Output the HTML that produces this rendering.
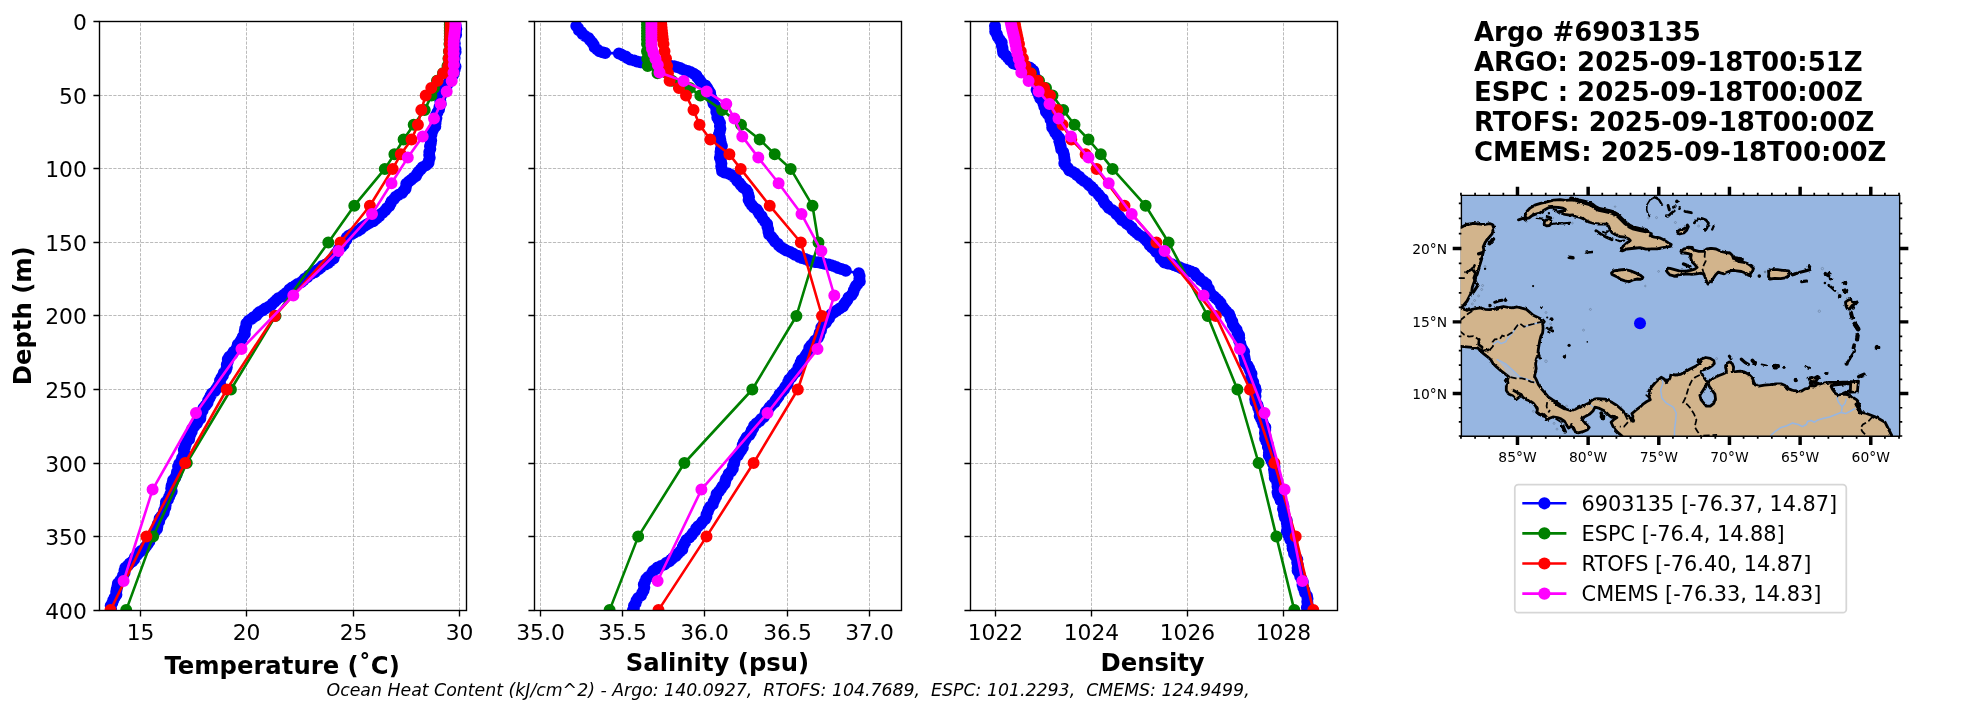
<!DOCTYPE html>
<html lang="en"><head><meta charset="utf-8"><title>Argo #6903135</title>
<style>html,body{margin:0;padding:0;background:#fff}svg text{fill:#000}svg{will-change:transform;transform:translateZ(0)}</style></head>
<body>
<svg width="1967" height="712" viewBox="0 0 1967 712" style="display:block;font-family:'DejaVu Sans', 'Liberation Sans', sans-serif">
<rect width="1967" height="712" fill="#fff"/>
<defs>
<clipPath id="c0"><rect x="99.50" y="21.50" width="367.00" height="589.00"/></clipPath>
<clipPath id="c1"><rect x="534.50" y="21.50" width="367.00" height="589.00"/></clipPath>
<clipPath id="c2"><rect x="970.50" y="21.50" width="367.00" height="589.00"/></clipPath>
</defs>
<path d="M140.50 610.50V21.50M246.50 610.50V21.50M353.50 610.50V21.50M459.50 610.50V21.50M99.50 21.50H466.50M99.50 95.50H466.50M99.50 168.50H466.50M99.50 242.50H466.50M99.50 315.50H466.50M99.50 389.50H466.50M99.50 463.50H466.50M99.50 536.50H466.50M99.50 610.50H466.50" fill="none" stroke="#b0b0b0" stroke-width="0.87" stroke-dasharray="3.21 1.39"/>
<g clip-path="url(#c0)">
<polyline points="455,26 455.3,40 455.2,55 454.8,65 452.3,75 448,84 443,91 439.8,103.4 437.3,112 434,128.7 429.7,145.5 429.7,154 428,162.4 422,168.5 418,174 407.8,182.6 404.5,189.4 396.9,196 390,204.5 383.4,213 373.3,220.3 348,237.1 338,250.6 329.5,262.4 316,270.8 299.2,282.6 282.3,296 263.8,309.6 249.4,320.3 244.4,330.4 241,340.5 230,357.4 223.3,374.2 214.9,391.1 205.6,404.6 197.8,420.3 189.4,437.1 182.6,454 177.6,470.8 171.7,487.7 165.8,504.5 159.9,521.9 150.6,538.8 142.2,550.5 126.2,567.4 119.4,580.9 116,594.4 111,607.8 110,610.3" fill="none" stroke="#0000ff" stroke-width="2.60" stroke-linejoin="round"/>
<path d="M455.8 26h.01M456.3 28.9h.01M456 31.8h.01M456.1 34.7h.01M454.8 37.6h.01M454.3 40.5h.01M454.8 43.4h.01M454.6 46.3h.01M455.5 49.2h.01M455.6 52.1h.01M454.5 55h.01M454.6 57.9h.01M454.2 60.8h.01M454.4 63.7h.01M455.5 66.5h.01M454.7 69.4h.01M454 72.2h.01M453.1 75h.01M450.4 77.6h.01M449.5 80.2h.01M448.5 82.8h.01M446.9 85.3h.01M446 87.7h.01M443.5 90h.01M441.5 92.6h.01M441.1 95.5h.01M439.9 98.3h.01M440.3 101.1h.01M440.7 103.9h.01M439.5 106.7h.01M439 109.4h.01M437.5 112.2h.01M436.1 115.1h.01M436.4 117.9h.01M435.8 120.8h.01M435.5 123.6h.01M435.3 126.5h.01M433.2 129.3h.01M432.1 132.1h.01M431.4 134.9h.01M430.4 137.7h.01M431.2 140.5h.01M430.8 143.3h.01M430 146.2h.01M430.3 149.1h.01M429.3 152h.01M429.2 154.9h.01M429.7 157.7h.01M428.9 160.5h.01M428.5 163.1h.01M426 165.2h.01M422.5 167.3h.01M420.6 169.4h.01M418.5 171.8h.01M417 174.1h.01M416.1 176h.01M413.5 177.8h.01M411.2 179.7h.01M408.9 181.6h.01M406.3 183.8h.01M406 186.4h.01M405.5 189h.01M403.5 191h.01M402 192.9h.01M398.7 194.8h.01M395.7 196.8h.01M394 199.1h.01M391.6 201.3h.01M390.6 203.6h.01M389.4 205.9h.01M386.8 208.2h.01M385.1 210.5h.01M382.7 212.7h.01M380.2 214.5h.01M379.2 216.2h.01M377.2 217.9h.01M375.3 219.6h.01M373.3 221.2h.01M369.4 222.9h.01M366.8 224.5h.01M364.5 226.1h.01M361.8 227.7h.01M360.5 229.3h.01M357.7 230.9h.01M354.5 232.5h.01M352 234.1h.01M348.7 235.7h.01M346.8 237.4h.01M346.4 239.7h.01M344.7 242h.01M343.7 244.4h.01M341.7 246.7h.01M338.8 249h.01M337.6 251.4h.01M335.8 253.7h.01M334.4 256.1h.01M333.6 258.4h.01M330.9 260.8h.01M328.3 262.9h.01M325.5 264.4h.01M322.2 265.9h.01M320.8 267.5h.01M319 269h.01M316.6 270.5h.01M314.8 272.2h.01M311.6 273.8h.01M308.8 275.5h.01M307.2 277.2h.01M304.7 278.8h.01M303.3 280.5h.01M301.2 282.2h.01M297.6 283.9h.01M295.1 285.7h.01M292 287.6h.01M289.4 289.4h.01M288.4 291.2h.01M286.1 293h.01M283.9 294.8h.01M281.8 296.5h.01M278.3 298.3h.01M276.4 300h.01M274.7 301.7h.01M272.6 303.4h.01M271.5 305.1h.01M268.7 306.8h.01M265.3 308.6h.01M262.9 310.3h.01M259.6 312h.01M257.7 313.7h.01M256.3 315.5h.01M253.4 317.2h.01M251.3 318.9h.01M248.6 320.8h.01M246.4 323.4h.01M246.1 326h.01M245.2 328.6h.01M244.7 331.3h.01M244.8 334h.01M242.8 336.8h.01M241.5 339.5h.01M240 342.1h.01M237.8 344.5h.01M237.2 346.9h.01M235.9 349.4h.01M233.6 351.8h.01M232.1 354.2h.01M229.3 356.7h.01M227.8 359.3h.01M227.7 362h.01M226.8 364.7h.01M226.8 367.3h.01M226 370h.01M223.9 372.7h.01M222.9 375.4h.01M221.3 378h.01M220 380.6h.01M220 383.2h.01M218.3 385.8h.01M216.6 388.4h.01M214.9 391h.01M211.9 393.4h.01M210.6 395.8h.01M209.6 398.1h.01M208.1 400.5h.01M207.5 402.9h.01M205.5 405.4h.01M203.5 408h.01M202.6 410.6h.01M201 413.2h.01M200.6 415.8h.01M200.3 418.4h.01M198.2 420.9h.01M196.8 423.5h.01M194.6 426.1h.01M192.3 428.7h.01M191.8 431.3h.01M190.6 433.9h.01M189.6 436.5h.01M189.1 439.2h.01M186.8 441.9h.01M185.7 444.6h.01M184.9 447.3h.01M183.8 449.9h.01M184.2 452.6h.01M183.6 455.4h.01M182.1 458.1h.01M181.2 460.9h.01M179.2 463.7h.01M178.1 466.5h.01M178.2 469.3h.01M177 472h.01M176.5 474.8h.01M175.3 477.5h.01M173.1 480.2h.01M172.5 483h.01M171.6 485.7h.01M171.2 488.5h.01M171.7 491.2h.01M170.4 493.9h.01M169.2 496.7h.01M168 499.4h.01M166 502.1h.01M165.7 504.9h.01M165.3 507.6h.01M164.1 510.4h.01M163.6 513.1h.01M161.5 515.9h.01M159.6 518.6h.01M159.2 521.3h.01M157.8 523.9h.01M157.4 526.5h.01M157 529h.01M154.9 531.6h.01M153.6 534.1h.01M151.7 536.6h.01M149.9 539.1h.01M149.4 541.5h.01M147.8 543.9h.01M146 546.2h.01M144.4 548.6h.01M141 550.9h.01M138.7 553h.01M137 555.1h.01M134.9 557.2h.01M134.2 559.3h.01M132.3 561.4h.01M129.6 563.5h.01M127.9 565.6h.01M125.3 567.8h.01M124.5 570.4h.01M124.5 573h.01M123 575.6h.01M122 578.2h.01M120.1 580.8h.01M117.9 583.6h.01M117.4 586.4h.01M116.7 589.2h.01M116.2 592h.01M116.4 594.8h.01M114.6 597.5h.01M113.2 600.2h.01M112.3 602.9h.01M110.7 605.7h.01M111 608.4h.01M111.1 610.3h.01" fill="none" stroke="#0000ff" stroke-width="12.00" stroke-linecap="round"/>
<polyline points="449.8,21.9 449.8,24.8 449.8,27.8 449.8,30.7 449.8,33.6 449.8,36.6 449.7,39.5 449.5,43.9 449,51.3 448.5,58.6 447.5,66 443,73.3 437,80.7 434,88.1 431.4,95.4 424.7,110.1 413.7,124.8 403.6,139.5 394.4,154.2 384.8,168.9 354.3,205.7 328.3,242.5 275.5,316 230.9,389.5 186.8,463 153.1,536.6 126.2,610.1" fill="none" stroke="#008000" stroke-width="2.60" stroke-linejoin="round"/>
<path d="M449.8 21.9h.01M449.8 24.8h.01M449.8 27.8h.01M449.8 30.7h.01M449.8 33.6h.01M449.8 36.6h.01M449.7 39.5h.01M449.5 43.9h.01M449 51.3h.01M448.5 58.6h.01M447.5 66h.01M443 73.3h.01M437 80.7h.01M434 88.1h.01M431.4 95.4h.01M424.7 110.1h.01M413.7 124.8h.01M403.6 139.5h.01M394.4 154.2h.01M384.8 168.9h.01M354.3 205.7h.01M328.3 242.5h.01M275.5 316h.01M230.9 389.5h.01M186.8 463h.01M153.1 536.6h.01M126.2 610.1h.01" fill="none" stroke="#008000" stroke-width="12.00" stroke-linecap="round"/>
<polyline points="450.6,21.9 450.6,24.8 450.5,27.8 450.4,30.7 450.3,33.6 450.2,36.6 450.1,39.5 449.8,43.9 449.2,51.3 448.7,58.6 448.2,66 443.2,73.3 437.6,80.7 431.3,88.1 425.7,95.4 421.3,110.1 417.9,124.8 411.5,139.5 400.8,154.2 392.7,168.9 369.9,205.7 340.5,242.5 274.8,316 226.7,389.5 185.1,463 146.4,536.6 110.5,610.1" fill="none" stroke="#ff0000" stroke-width="2.60" stroke-linejoin="round"/>
<path d="M450.6 21.9h.01M450.6 24.8h.01M450.5 27.8h.01M450.4 30.7h.01M450.3 33.6h.01M450.2 36.6h.01M450.1 39.5h.01M449.8 43.9h.01M449.2 51.3h.01M448.7 58.6h.01M448.2 66h.01M443.2 73.3h.01M437.6 80.7h.01M431.3 88.1h.01M425.7 95.4h.01M421.3 110.1h.01M417.9 124.8h.01M411.5 139.5h.01M400.8 154.2h.01M392.7 168.9h.01M369.9 205.7h.01M340.5 242.5h.01M274.8 316h.01M226.7 389.5h.01M185.1 463h.01M146.4 536.6h.01M110.5 610.1h.01" fill="none" stroke="#ff0000" stroke-width="12.00" stroke-linecap="round"/>
<polyline points="455.4,22.6 455.4,24.1 455.3,25.8 455.2,27.5 455,29.4 454.8,31.4 454.5,33.5 454.2,36 453.9,38.6 453.7,41.7 453.6,45.1 453.6,49.1 453.6,53.6 453.7,58.9 453.8,65.1 453.5,72.5 451.7,81.1 446.7,91.6 440.6,103.9 434,118.6 422.7,136.4 407.8,157.6 391.5,183.2 372,214.1 338.5,251.1 293.3,295.5 241.5,349.1 196,413 152.6,489.6 123.6,581" fill="none" stroke="#ff00ff" stroke-width="2.60" stroke-linejoin="round"/>
<path d="M455.4 22.6h.01M455.4 24.1h.01M455.3 25.8h.01M455.2 27.5h.01M455 29.4h.01M454.8 31.4h.01M454.5 33.5h.01M454.2 36h.01M453.9 38.6h.01M453.7 41.7h.01M453.6 45.1h.01M453.6 49.1h.01M453.6 53.6h.01M453.7 58.9h.01M453.8 65.1h.01M453.5 72.5h.01M451.7 81.1h.01M446.7 91.6h.01M440.6 103.9h.01M434 118.6h.01M422.7 136.4h.01M407.8 157.6h.01M391.5 183.2h.01M372 214.1h.01M338.5 251.1h.01M293.3 295.5h.01M241.5 349.1h.01M196 413h.01M152.6 489.6h.01M123.6 581h.01" fill="none" stroke="#ff00ff" stroke-width="12.00" stroke-linecap="round"/>
</g>
<path d="M140.50 610.50v6.08M246.50 610.50v6.08M353.50 610.50v6.08M459.50 610.50v6.08M99.50 21.50h-6.08M99.50 95.50h-6.08M99.50 168.50h-6.08M99.50 242.50h-6.08M99.50 315.50h-6.08M99.50 389.50h-6.08M99.50 463.50h-6.08M99.50 536.50h-6.08M99.50 610.50h-6.08" fill="none" stroke="#000" stroke-width="1.39"/>
<rect x="99.50" y="21.50" width="367.00" height="589.00" fill="none" stroke="#000" stroke-width="1.39"/>
<g font-size="21.80" text-anchor="middle">
<text x="140.50" y="640">15</text>
<text x="246.50" y="640">20</text>
<text x="353.50" y="640">25</text>
<text x="459.50" y="640">30</text>
</g>
<g font-size="21.80" text-anchor="end">
<text x="86.8" y="29.50">0</text>
<text x="86.8" y="103.50">50</text>
<text x="86.8" y="176.50">100</text>
<text x="86.8" y="250.50">150</text>
<text x="86.8" y="323.50">200</text>
<text x="86.8" y="397.50">250</text>
<text x="86.8" y="471.50">300</text>
<text x="86.8" y="544.50">350</text>
<text x="86.8" y="618.50">400</text>
</g>
<text x="282.10" y="674.00" font-size="24.30" font-weight="bold" text-anchor="middle">Temperature (˚C)</text>
<path d="M540.50 610.50V21.50M622.50 610.50V21.50M704.50 610.50V21.50M787.50 610.50V21.50M869.50 610.50V21.50M534.50 21.50H901.50M534.50 95.50H901.50M534.50 168.50H901.50M534.50 242.50H901.50M534.50 315.50H901.50M534.50 389.50H901.50M534.50 463.50H901.50M534.50 536.50H901.50M534.50 610.50H901.50" fill="none" stroke="#b0b0b0" stroke-width="0.87" stroke-dasharray="3.21 1.39"/>
<g clip-path="url(#c1)">
<polyline points="575.6,26 579.5,30.2 584.5,34.4 588.8,38.6 591.3,42.8 594.7,47 598.9,51.2 603.9,52.9 618.2,53.4 627.5,56.8 630,59.1 638.5,62.2 650,63.5 662,64.5 675.5,66.4 683.1,69.3 690.7,72.3 696.6,76.5 701.6,81.6 705.9,85.8 711.8,95.9 712.9,103.4 716.2,111.8 719.1,120.3 720.4,128.7 720.4,145.5 720.4,162.4 722.1,170.8 730.5,174.2 739,182.6 747.4,192.7 752,205.1 761.2,215.2 765.4,223.6 768.8,232.1 775.5,242.2 784,248.9 792.4,254 800.8,257.3 809.2,260.7 819.4,262.4 829.5,264.9 839.6,268.3 845.5,270.8 858.1,273.3 859.8,277.6 860.6,282.6 854.7,287.7 851.4,294.4 846.3,301.2 841.3,307 829.8,316.9 823.1,325.3 818.9,333.8 813,343.9 804.6,357.3 797.8,367.5 791.1,377.6 786,386 781,394.4 772.6,402.8 763.2,416.8 753.1,428.6 744.7,440.4 737.9,455.6 731.2,470.8 722.8,484.2 716,497.7 709.3,509.5 706.5,515.2 698.1,527 689.6,537.1 682.9,547.2 674.5,557.3 664.4,564 654.2,570.8 645.8,579.2 642.4,591 637.4,601.1 633.2,608.7 632.5,610.3" fill="none" stroke="#0000ff" stroke-width="2.60" stroke-linejoin="round"/>
<path d="M576.3 26h.01M578 28.1h.01M578.9 30.2h.01M581.2 32.1h.01M582.5 34h.01M585.1 36h.01M588.5 38h.01M590.2 40.3h.01M592.3 42.8h.01M593.8 45.1h.01M594.6 47.3h.01M597.2 49.4h.01M599.4 51.3h.01M602.4 52.2h.01M605.2 52.9h.01M618.9 53.4h.01M621.3 54.4h.01M623 55.4h.01M625.8 56.4h.01M627.3 57.9h.01M630.1 59.5h.01M634.2 60.5h.01M636.9 61.5h.01M640.3 62.3h.01M642.9 62.6h.01M644.7 62.9h.01M648.1 63.3h.01M651.1 63.6h.01M654.2 63.8h.01M658 64.1h.01M659.8 64.3h.01M661.9 64.6h.01M664.5 65h.01M666.6 65.4h.01M670.5 65.8h.01M674.1 66.2h.01M676.8 66.9h.01M680.1 67.9h.01M681.9 68.9h.01M684.2 70h.01M687.8 71.1h.01M690.5 72.1h.01M693.8 73.7h.01M696.4 75.4h.01M697.3 77.2h.01M699.1 79.3h.01M700.5 81.3h.01M702.2 83.4h.01M705.5 85.4h.01M707.1 87.8h.01M708.5 90.3h.01M710.1 92.8h.01M710.4 95.3h.01M711.5 98.1h.01M712.8 101h.01M713.5 103.8h.01M715.7 106.5h.01M716.3 109.2h.01M716.3 111.9h.01M717.2 114.6h.01M717.3 117.4h.01M718.6 120.1h.01M720 123h.01M719.9 125.9h.01M720.4 128.7h.01M719.8 131.6h.01M718.9 134.5h.01M719.9 137.4h.01M720.4 140.3h.01M721 143.2h.01M721.9 146.1h.01M720.9 149h.01M720.5 151.9h.01M720.5 154.8h.01M719.9 157.7h.01M720.9 160.6h.01M721.4 163.5h.01M721.2 166.3h.01M721.8 169.2h.01M722.1 171.3h.01M724.4 172.4h.01M728.3 173.4h.01M730.9 174.8h.01M733.9 176.9h.01M736.2 178.9h.01M737.2 180.9h.01M739.4 183h.01M741.1 185.2h.01M743.1 187.5h.01M746.2 189.7h.01M747.6 191.9h.01M748.3 194.5h.01M749 197.2h.01M748.6 199.9h.01M750 202.6h.01M751.9 205.3h.01M753.9 207.4h.01M756.8 209.6h.01M758.2 211.7h.01M759.4 213.9h.01M761.6 216.2h.01M762.7 218.8h.01M764.9 221.4h.01M767.1 224h.01M767.4 226.7h.01M768.2 229.4h.01M768.5 232.1h.01M769.1 234.5h.01M771.6 236.9h.01M773.4 239.3h.01M775.1 241.7h.01M777.8 243.7h.01M778.9 245.4h.01M781 247.2h.01M783.8 249h.01M786.3 250.5h.01M790.2 252h.01M793 253.5h.01M794.9 254.7h.01M797.6 255.8h.01M799.2 256.9h.01M801.7 257.9h.01M805.3 259h.01M807.7 260.1h.01M810.8 260.9h.01M813.4 261.4h.01M814.9 261.9h.01M818.1 262.3h.01M821.2 263h.01M824.5 263.7h.01M828.7 264.4h.01M831.2 265.2h.01M833.5 266.1h.01M836.2 267h.01M838 268h.01M841.4 269h.01M844.7 270.1h.01M845.8 270.8h.01M858.8 273.3h.01M859.6 276h.01M859.4 278.8h.01M859.8 281.6h.01M857.7 283.9h.01M856 285.7h.01M855.1 287.6h.01M853.8 290.2h.01M853.1 292.8h.01M851.4 295.3h.01M848.5 297.6h.01M847.4 300h.01M845.6 302.2h.01M844 304.4h.01M842.9 306.6h.01M839.7 308.6h.01M836.8 310.4h.01M834.3 312.3h.01M831.3 314.2h.01M830.2 316.1h.01M829 318.2h.01M827 320.5h.01M825.8 322.8h.01M823.1 325h.01M821.3 327.6h.01M821 330.2h.01M819.7 332.8h.01M819.1 335.3h.01M818 337.8h.01M815.1 340.4h.01M813.4 342.9h.01M811.2 345.3h.01M809.3 347.8h.01M809.1 350.2h.01M807.5 352.7h.01M805.9 355.2h.01M804.5 357.6h.01M801.7 360h.01M800.6 362.4h.01M799.8 364.9h.01M798.4 367.3h.01M797.9 369.7h.01M795.9 372.1h.01M793.2 374.5h.01M791.6 376.9h.01M789.2 379.4h.01M788.1 381.9h.01M787.5 384.3h.01M785.4 386.8h.01M784 389.3h.01M781.9 391.8h.01M779.5 394.3h.01M778.5 396.4h.01M777 398.4h.01M775.5 400.5h.01M774.4 402.5h.01M771.7 404.9h.01M769.6 407.3h.01M768 409.7h.01M765.8 412.1h.01M765.2 414.5h.01M763.9 416.9h.01M761.2 419.1h.01M759.3 421.3h.01M756.3 423.5h.01M754.1 425.7h.01M753.3 427.9h.01M751.7 430.2h.01M750.9 432.6h.01M749.5 435h.01M746.7 437.3h.01M745.3 439.7h.01M743.8 442.3h.01M742.7 444.9h.01M742.8 447.6h.01M741.1 450.2h.01M739.4 452.8h.01M737.8 455.5h.01M735.3 458.1h.01M734.6 460.8h.01M734.1 463.5h.01M733 466.1h.01M732.8 468.8h.01M731 471.4h.01M728.7 473.8h.01M727.7 476.3h.01M726 478.7h.01M725.3 481.2h.01M724.7 483.7h.01M722.5 486.2h.01M721 488.8h.01M718.9 491.4h.01M716.6 494h.01M716.2 496.6h.01M715 499.1h.01M713.7 501.6h.01M712.8 504.2h.01M710.1 506.7h.01M708.6 509.2h.01M707.8 511.8h.01M706.5 514.4h.01M706.4 516.8h.01M705 519.2h.01M702.6 521.6h.01M700.9 523.9h.01M698.1 526.3h.01M696.1 528.6h.01M695.2 530.8h.01M693 533h.01M691.5 535.2h.01M689.4 537.5h.01M686.4 539.9h.01M685.2 542.3h.01M683.8 544.7h.01M682.7 547.1h.01M682.3 549.4h.01M680.1 551.6h.01M677.8 553.8h.01M675.9 556.1h.01M672.9 558h.01M671.2 559.6h.01M669.4 561.2h.01M666.5 562.8h.01M664.4 564.4h.01M660.9 566h.01M657.5 567.6h.01M655.7 569.2h.01M653.2 570.9h.01M652.1 572.9h.01M651 575h.01M648.1 577h.01M646.2 579.1h.01M645 581.8h.01M643.8 584.6h.01M644.3 587.4h.01M643.6 590.2h.01M642.3 592.8h.01M641 595.4h.01M638.1 598h.01M636.5 600.6h.01M635.6 603.2h.01M634 605.7h.01M633.8 608.3h.01M632.9 610.3h.01" fill="none" stroke="#0000ff" stroke-width="12.00" stroke-linecap="round"/>
<polyline points="647,21.9 647,24.8 647,27.8 647,30.7 647,33.6 647,36.6 647,39.5 647,43.9 647,51.3 647.2,58.6 647.7,66 657.5,73.3 672,80.7 689.9,88.1 700.3,95.4 722.1,110.1 741,124.8 759.7,139.5 774.7,154.2 790.7,168.9 812.5,205.7 818.5,242.5 796.4,316 752.3,389.5 684.4,463 638.2,536.6 609.6,610.1" fill="none" stroke="#008000" stroke-width="2.60" stroke-linejoin="round"/>
<path d="M647 21.9h.01M647 24.8h.01M647 27.8h.01M647 30.7h.01M647 33.6h.01M647 36.6h.01M647 39.5h.01M647 43.9h.01M647 51.3h.01M647.2 58.6h.01M647.7 66h.01M657.5 73.3h.01M672 80.7h.01M689.9 88.1h.01M700.3 95.4h.01M722.1 110.1h.01M741 124.8h.01M759.7 139.5h.01M774.7 154.2h.01M790.7 168.9h.01M812.5 205.7h.01M818.5 242.5h.01M796.4 316h.01M752.3 389.5h.01M684.4 463h.01M638.2 536.6h.01M609.6 610.1h.01" fill="none" stroke="#008000" stroke-width="12.00" stroke-linecap="round"/>
<polyline points="661.1,21.9 661.3,24.8 661.6,27.8 661.9,30.7 662.2,33.6 662.5,36.6 662.9,39.5 663.5,43.9 664.5,51.3 666,58.6 667.1,66 668,73.3 669.6,80.7 678.9,88.1 686,95.4 693.5,110.1 699.5,124.8 710.3,139.5 729.4,154.2 740.7,168.9 769.7,205.7 800.8,242.5 822,316 797.8,389.5 753.6,463 706.5,536.6 658.5,610.1" fill="none" stroke="#ff0000" stroke-width="2.60" stroke-linejoin="round"/>
<path d="M661.1 21.9h.01M661.3 24.8h.01M661.6 27.8h.01M661.9 30.7h.01M662.2 33.6h.01M662.5 36.6h.01M662.9 39.5h.01M663.5 43.9h.01M664.5 51.3h.01M666 58.6h.01M667.1 66h.01M668 73.3h.01M669.6 80.7h.01M678.9 88.1h.01M686 95.4h.01M693.5 110.1h.01M699.5 124.8h.01M710.3 139.5h.01M729.4 154.2h.01M740.7 168.9h.01M769.7 205.7h.01M800.8 242.5h.01M822 316h.01M797.8 389.5h.01M753.6 463h.01M706.5 536.6h.01M658.5 610.1h.01" fill="none" stroke="#ff0000" stroke-width="12.00" stroke-linecap="round"/>
<polyline points="651.4,22.6 651.4,24.1 651.4,25.8 651.4,27.5 651.4,29.4 651.4,31.4 651.4,33.5 651.4,36 651.4,38.6 651.4,41.7 651.4,45.1 652,49.1 653.5,53.6 655.5,58.9 657.8,65.1 659.5,72.5 683.6,81.1 706.7,91.6 726.3,103.9 734.4,118.6 742.3,136.4 758.3,157.6 778.6,183.2 801.5,214.1 821.4,251.1 834.3,295.5 817.5,349.1 767.5,413 701.4,489.6 657.6,581" fill="none" stroke="#ff00ff" stroke-width="2.60" stroke-linejoin="round"/>
<path d="M651.4 22.6h.01M651.4 24.1h.01M651.4 25.8h.01M651.4 27.5h.01M651.4 29.4h.01M651.4 31.4h.01M651.4 33.5h.01M651.4 36h.01M651.4 38.6h.01M651.4 41.7h.01M651.4 45.1h.01M652 49.1h.01M653.5 53.6h.01M655.5 58.9h.01M657.8 65.1h.01M659.5 72.5h.01M683.6 81.1h.01M706.7 91.6h.01M726.3 103.9h.01M734.4 118.6h.01M742.3 136.4h.01M758.3 157.6h.01M778.6 183.2h.01M801.5 214.1h.01M821.4 251.1h.01M834.3 295.5h.01M817.5 349.1h.01M767.5 413h.01M701.4 489.6h.01M657.6 581h.01" fill="none" stroke="#ff00ff" stroke-width="12.00" stroke-linecap="round"/>
</g>
<path d="M540.50 610.50v6.08M622.50 610.50v6.08M704.50 610.50v6.08M787.50 610.50v6.08M869.50 610.50v6.08M534.50 21.50h-6.08M534.50 95.50h-6.08M534.50 168.50h-6.08M534.50 242.50h-6.08M534.50 315.50h-6.08M534.50 389.50h-6.08M534.50 463.50h-6.08M534.50 536.50h-6.08M534.50 610.50h-6.08" fill="none" stroke="#000" stroke-width="1.39"/>
<rect x="534.50" y="21.50" width="367.00" height="589.00" fill="none" stroke="#000" stroke-width="1.39"/>
<g font-size="21.80" text-anchor="middle">
<text x="540.50" y="640">35.0</text>
<text x="622.50" y="640">35.5</text>
<text x="704.50" y="640">36.0</text>
<text x="787.50" y="640">36.5</text>
<text x="869.50" y="640">37.0</text>
</g>
<text x="717.50" y="670.60" font-size="24.30" font-weight="bold" text-anchor="middle">Salinity (psu)</text>
<path d="M995.50 610.50V21.50M1091.50 610.50V21.50M1187.50 610.50V21.50M1283.50 610.50V21.50M970.50 21.50H1337.50M970.50 95.50H1337.50M970.50 168.50H1337.50M970.50 242.50H1337.50M970.50 315.50H1337.50M970.50 389.50H1337.50M970.50 463.50H1337.50M970.50 536.50H1337.50M970.50 610.50H1337.50" fill="none" stroke="#b0b0b0" stroke-width="0.87" stroke-dasharray="3.21 1.39"/>
<g clip-path="url(#c2)">
<polyline points="994.4,26 996.1,31.8 998.6,38.6 1001.1,45.3 1003.6,52.1 1008.7,58.8 1012.9,63 1022,65.5 1030,68 1034,72 1036,80 1038,90 1041.2,100.5 1046.3,111.4 1052.2,124 1058.6,138.8 1062,150.6 1064.5,162.4 1070.4,170.8 1078.9,175.9 1087.3,184.3 1097.4,192.7 1104.5,202.2 1116.8,215.2 1128.6,225.3 1140.4,235.4 1150.5,245.5 1159,255.7 1165.7,262.4 1175.8,265.8 1184.2,269.1 1192.7,272.5 1199.4,277.6 1206.1,284.3 1211.2,292.7 1213,296 1218.5,302 1227,311.5 1234,323.6 1237.4,333.8 1240.8,345.5 1245,357.3 1249.2,369.1 1252.6,380.9 1255.1,392.7 1257.6,405.5 1263.9,428.1 1270.2,456.2 1277.2,484.3 1280,498.3 1281.7,503.8 1289.6,536.6 1297.5,565.3 1305,591.6 1308,609.2 1308.3,610.3" fill="none" stroke="#0000ff" stroke-width="2.60" stroke-linejoin="round"/>
<path d="M995 26h.01M995.2 28.8h.01M995.2 31.6h.01M996.9 34.3h.01M997.8 37h.01M999.7 39.7h.01M1001.7 42.5h.01M1001.8 45.2h.01M1002.5 47.9h.01M1002.8 50.6h.01M1003.2 53.1h.01M1005.9 55.5h.01M1007.9 57.8h.01M1009.7 59.9h.01M1012.2 62h.01M1013.4 63.4h.01M1016.1 64.2h.01M1019.5 64.9h.01M1022.4 65.7h.01M1026.5 66.6h.01M1029.6 67.4h.01M1031.2 68.7h.01M1033.3 70.8h.01M1033.9 73.1h.01M1034.4 76h.01M1036.2 78.8h.01M1036.4 81.6h.01M1037.1 84.4h.01M1037.4 87.3h.01M1036.6 90.1h.01M1037.9 92.9h.01M1039.1 95.7h.01M1040.3 98.5h.01M1042.7 101.2h.01M1043.5 103.8h.01M1044.3 106.4h.01M1045.5 109.1h.01M1045.9 111.7h.01M1047.9 114.3h.01M1049.8 116.9h.01M1050.5 119.6h.01M1051.9 122.2h.01M1052.1 124.8h.01M1052.2 127.5h.01M1054.1 130.2h.01M1055.2 132.8h.01M1057.2 135.5h.01M1059.2 138.1h.01M1059.2 140.9h.01M1060 143.7h.01M1060.7 146.5h.01M1061.2 149.3h.01M1063.2 152.1h.01M1064 154.9h.01M1064.3 157.7h.01M1064.8 160.6h.01M1064.3 163.3h.01M1065.7 165.6h.01M1067.9 168h.01M1069.4 170.4h.01M1072.8 172h.01M1075.3 173.5h.01M1076.8 175h.01M1079.4 176.7h.01M1081.1 178.8h.01M1083.7 180.8h.01M1087.2 182.9h.01M1089 184.9h.01M1091.2 186.7h.01M1093 188.6h.01M1093.8 190.4h.01M1096.4 192.3h.01M1098.5 194.5h.01M1100.2 196.8h.01M1102.8 199.1h.01M1103.6 201.5h.01M1104.9 203.6h.01M1107.2 205.8h.01M1108.8 207.9h.01M1112.1 210h.01M1115 212.1h.01M1116.6 214.2h.01M1119 216.2h.01M1120.2 218.1h.01M1121.7 219.9h.01M1124.8 221.8h.01M1126.8 223.7h.01M1129.4 225.6h.01M1131.8 227.5h.01M1132.5 229.4h.01M1134.6 231.3h.01M1136.7 233.1h.01M1138.9 235h.01M1142.6 237h.01M1144.8 239.1h.01M1146.7 241.1h.01M1148.9 243.2h.01M1149.8 245.3h.01M1152 247.5h.01M1154.6 249.7h.01M1156.3 251.9h.01M1158.8 254.1h.01M1160 256.3h.01M1160.7 258.4h.01M1162.9 260.4h.01M1164.5 262.4h.01M1167.8 263.4h.01M1171.9 264.3h.01M1174.2 265.2h.01M1177 266.2h.01M1179.5 267.2h.01M1181.4 268.3h.01M1185.2 269.4h.01M1188.4 270.4h.01M1191.1 271.5h.01M1194.3 272.7h.01M1195.3 274.4h.01M1196.8 276.2h.01M1199.2 278h.01M1200.7 280h.01M1203.8 282.1h.01M1206.4 284.1h.01M1207.1 286.6h.01M1208.9 289.1h.01M1209.7 291.5h.01M1211.1 294h.01M1214 296.5h.01M1216.1 298.6h.01M1218.6 300.8h.01M1220.6 302.9h.01M1221 305.1h.01M1222.9 307.2h.01M1224.7 309.4h.01M1226.5 311.6h.01M1229.1 314.1h.01M1230.1 316.6h.01M1230.8 319.1h.01M1232.3 321.6h.01M1232.8 324.2h.01M1234.4 326.9h.01M1236.6 329.7h.01M1237.5 332.4h.01M1239.1 335.2h.01M1239.3 338h.01M1239.1 340.8h.01M1240.3 343.6h.01M1240.9 346.3h.01M1242.3 349.1h.01M1244.1 351.8h.01M1243.9 354.5h.01M1244.5 357.3h.01M1245 360h.01M1245.3 362.7h.01M1247.6 365.4h.01M1249.1 368.2h.01M1250.1 370.9h.01M1251.5 373.7h.01M1251.3 376.5h.01M1251.8 379.3h.01M1253.2 382.1h.01M1253.6 385h.01M1255.2 387.8h.01M1255.8 390.6h.01M1255.1 393.5h.01M1255.5 396.3h.01M1255.2 399.2h.01M1255.6 402h.01M1257.5 404.9h.01M1258.2 407.7h.01M1259.3 410.5h.01M1260.1 413.2h.01M1259.7 416h.01M1261.1 418.8h.01M1262.4 421.6h.01M1263.4 424.4h.01M1265.3 427.2h.01M1265.2 430h.01M1264.9 432.9h.01M1265.4 435.7h.01M1265.1 438.5h.01M1266.3 441.3h.01M1267.8 444.2h.01M1267.9 447h.01M1268.9 449.8h.01M1268.9 452.7h.01M1268.8 455.5h.01M1270.5 458.3h.01M1271.5 461.1h.01M1273 463.9h.01M1274.5 466.8h.01M1274 469.6h.01M1274.4 472.4h.01M1274.7 475.2h.01M1274.8 478h.01M1276.7 480.8h.01M1277.4 483.6h.01M1277.5 486.5h.01M1278.2 489.3h.01M1277.5 492.2h.01M1278.1 495h.01M1279.7 497.9h.01M1280.6 500.6h.01M1282.6 503.4h.01M1283.4 506.2h.01M1283 509h.01M1283.9 511.9h.01M1284.1 514.7h.01M1284.9 517.5h.01M1286.7 520.3h.01M1286.8 523.1h.01M1287.2 526h.01M1287.4 528.8h.01M1286.8 531.6h.01M1288.1 534.4h.01M1289.4 537.2h.01M1290.4 540h.01M1292.3 542.8h.01M1292.4 545.6h.01M1292.6 548.4h.01M1293.7 551.2h.01M1294.1 554h.01M1295.8 556.8h.01M1297.3 559.6h.01M1297.2 562.4h.01M1297.9 565.2h.01M1297.6 568h.01M1297.6 570.8h.01M1299.4 573.6h.01M1300.2 576.3h.01M1301.5 579.1h.01M1302.8 581.9h.01M1302.5 584.7h.01M1303.3 587.5h.01M1304.4 590.3h.01M1305.1 593.1h.01M1307 596h.01M1307.5 598.8h.01M1307.3 601.7h.01M1307.7 604.5h.01M1306.9 607.4h.01M1307.4 610.2h.01M1308.3 610.3h.01" fill="none" stroke="#0000ff" stroke-width="12.00" stroke-linecap="round"/>
<polyline points="1012.4,21.9 1013,24.8 1013.5,27.8 1014.1,30.7 1014.7,33.6 1015.3,36.6 1016,39.5 1017,43.9 1018.8,51.3 1020.9,58.6 1024.5,66 1031,73.3 1039,80.7 1046,88.1 1052.5,95.4 1063.2,110.1 1074.5,124.8 1088.5,139.5 1100.8,154.2 1112.6,168.9 1145.6,205.7 1168.6,242.5 1207.7,316 1237.4,389.5 1258.6,463 1276.4,536.6 1294.3,610.1" fill="none" stroke="#008000" stroke-width="2.60" stroke-linejoin="round"/>
<path d="M1012.4 21.9h.01M1013 24.8h.01M1013.5 27.8h.01M1014.1 30.7h.01M1014.7 33.6h.01M1015.3 36.6h.01M1016 39.5h.01M1017 43.9h.01M1018.8 51.3h.01M1020.9 58.6h.01M1024.5 66h.01M1031 73.3h.01M1039 80.7h.01M1046 88.1h.01M1052.5 95.4h.01M1063.2 110.1h.01M1074.5 124.8h.01M1088.5 139.5h.01M1100.8 154.2h.01M1112.6 168.9h.01M1145.6 205.7h.01M1168.6 242.5h.01M1207.7 316h.01M1237.4 389.5h.01M1258.6 463h.01M1276.4 536.6h.01M1294.3 610.1h.01" fill="none" stroke="#008000" stroke-width="12.00" stroke-linecap="round"/>
<polyline points="1014.4,21.9 1015,24.8 1015.5,27.8 1016.1,30.7 1016.7,33.6 1017.3,36.6 1018,39.5 1019,43.9 1020.8,51.3 1022.9,58.6 1025.4,66 1030.6,73.3 1037.7,80.7 1044.1,88.1 1050,95.4 1057.3,110.1 1062.5,124.8 1071.3,139.5 1085.6,154.2 1096.6,168.9 1124.5,205.7 1156.4,242.5 1215.8,316 1250,389.5 1274.4,463 1295.7,536.6 1313.3,610.1" fill="none" stroke="#ff0000" stroke-width="2.60" stroke-linejoin="round"/>
<path d="M1014.4 21.9h.01M1015 24.8h.01M1015.5 27.8h.01M1016.1 30.7h.01M1016.7 33.6h.01M1017.3 36.6h.01M1018 39.5h.01M1019 43.9h.01M1020.8 51.3h.01M1022.9 58.6h.01M1025.4 66h.01M1030.6 73.3h.01M1037.7 80.7h.01M1044.1 88.1h.01M1050 95.4h.01M1057.3 110.1h.01M1062.5 124.8h.01M1071.3 139.5h.01M1085.6 154.2h.01M1096.6 168.9h.01M1124.5 205.7h.01M1156.4 242.5h.01M1215.8 316h.01M1250 389.5h.01M1274.4 463h.01M1295.7 536.6h.01M1313.3 610.1h.01" fill="none" stroke="#ff0000" stroke-width="12.00" stroke-linecap="round"/>
<polyline points="1010.7,22.6 1011,24.1 1011.4,25.8 1011.8,27.5 1012.2,29.4 1012.7,31.4 1013.2,33.5 1013.8,36 1014.4,38.6 1015,41.7 1015.6,45.1 1016.3,49.1 1017.3,53.6 1018.7,58.9 1020.3,65.1 1021.3,72.5 1028.6,81.1 1038.7,91.6 1049.5,103.9 1058.5,118.6 1071,136.4 1088.5,157.6 1108.7,183.2 1131.7,214.1 1164.5,251.1 1203.6,295.5 1239.9,349.1 1264.5,413 1284.6,489.6 1302.4,581" fill="none" stroke="#ff00ff" stroke-width="2.60" stroke-linejoin="round"/>
<path d="M1010.7 22.6h.01M1011 24.1h.01M1011.4 25.8h.01M1011.8 27.5h.01M1012.2 29.4h.01M1012.7 31.4h.01M1013.2 33.5h.01M1013.8 36h.01M1014.4 38.6h.01M1015 41.7h.01M1015.6 45.1h.01M1016.3 49.1h.01M1017.3 53.6h.01M1018.7 58.9h.01M1020.3 65.1h.01M1021.3 72.5h.01M1028.6 81.1h.01M1038.7 91.6h.01M1049.5 103.9h.01M1058.5 118.6h.01M1071 136.4h.01M1088.5 157.6h.01M1108.7 183.2h.01M1131.7 214.1h.01M1164.5 251.1h.01M1203.6 295.5h.01M1239.9 349.1h.01M1264.5 413h.01M1284.6 489.6h.01M1302.4 581h.01" fill="none" stroke="#ff00ff" stroke-width="12.00" stroke-linecap="round"/>
</g>
<path d="M995.50 610.50v6.08M1091.50 610.50v6.08M1187.50 610.50v6.08M1283.50 610.50v6.08M970.50 21.50h-6.08M970.50 95.50h-6.08M970.50 168.50h-6.08M970.50 242.50h-6.08M970.50 315.50h-6.08M970.50 389.50h-6.08M970.50 463.50h-6.08M970.50 536.50h-6.08M970.50 610.50h-6.08" fill="none" stroke="#000" stroke-width="1.39"/>
<rect x="970.50" y="21.50" width="367.00" height="589.00" fill="none" stroke="#000" stroke-width="1.39"/>
<g font-size="21.80" text-anchor="middle">
<text x="995.50" y="640">1022</text>
<text x="1091.50" y="640">1024</text>
<text x="1187.50" y="640">1026</text>
<text x="1283.50" y="640">1028</text>
</g>
<text x="1152.60" y="670.60" font-size="24.30" font-weight="bold" text-anchor="middle">Density</text>
<text transform="translate(30.6 315.8) rotate(-90)" font-size="24.30" font-weight="bold" text-anchor="middle">Depth (m)</text>
<text x="326.5" y="695.7" font-size="17.33" font-style="italic" xml:space="preserve" style="white-space:pre">Ocean Heat Content (kJ/cm^2) - Argo: 140.0927,  RTOFS: 104.7689,  ESPC: 101.2293,  CMEMS: 124.9499,</text>
<g font-size="26" font-weight="bold">
<text x="1474" y="41.30">Argo #6903135</text>
<text x="1474" y="71.20">ARGO: 2025-09-18T00:51Z</text>
<text x="1474" y="101.10">ESPC : 2025-09-18T00:00Z</text>
<text x="1474" y="131.00">RTOFS: 2025-09-18T00:00Z</text>
<text x="1474" y="160.90">CMEMS: 2025-09-18T00:00Z</text>
</g>
<clipPath id="cm"><rect x="1460.70" y="195.40" width="438.95" height="240.85"/></clipPath>
<rect x="1461.40" y="195.40" width="438.25" height="240.85" fill="#97b6e1"/>
<path d="M1461.40 195.40V436.25" stroke="#000" stroke-width="1.39" fill="none"/>
<g clip-path="url(#cm)">
<filter id="rough" filterUnits="userSpaceOnUse" x="1440" y="180" width="480" height="280"><feTurbulence type="fractalNoise" baseFrequency="0.25" numOctaves="2" seed="7" result="n"/><feDisplacementMap in="SourceGraphic" in2="n" scale="2.6" xChannelSelector="R" yChannelSelector="G"/></filter>
<g filter="url(#rough)"><path d="M1611.5 273.1L1613.7 270.9L1619.3 270L1624.9 269.5L1630.5 270.9L1636.1 273.1L1640.3 275.2L1642.9 277.3L1641.7 279.4L1637.5 279L1633.3 279.8L1629.1 281.8L1624.9 280.8L1620.7 279.4L1617.9 277.3L1615.1 275.9L1612 274.5ZM1677.6 231.6L1679.7 229.8L1683.2 229.2L1686 227.4L1687.4 225L1688.4 226.7L1686.7 230.2L1683.9 233L1679.7 234L1677.6 233.4ZM1525.9 218.6L1525.2 215.4L1526.8 211.4L1530.1 208.1L1534.8 205.2L1540.5 203.3L1547 201.9L1553.6 200.1L1560.2 199.6L1565.9 200.3L1570.6 199.8L1574.3 200.3L1578.1 201.8L1582.8 202.9L1588.4 204.3L1592.2 206.2L1595 208.5L1598.8 210.4L1603.5 211.3L1608.2 212.3L1612.9 213.7L1617.6 216.5L1621.4 220.3L1625.1 224L1628.9 226.9L1633.6 229.2L1640 230.6L1647.4 232L1651.6 233.7L1650.2 235.8L1654.4 237.2L1660 237.9L1664.2 240.1L1668.4 242.9L1671.2 244.5L1670.5 246.4L1665.6 247.1L1661.4 247.8L1657.2 248.9L1651.6 248.9L1646 249.2L1640 247.6L1636.4 248L1631.7 248.5L1627 249L1622.3 250.9L1620.4 250.4L1623.2 246.2L1627 242.9L1630.3 240.5L1628.9 239.1L1625.1 237.2L1620.4 236.7L1615.7 234.9L1611.9 232.5L1610.1 229.7L1608.7 226.4L1607.2 224L1603.5 224.2L1598.8 224L1594.1 223.3L1589.4 222.2L1586.5 220.8L1583.7 218.9L1580 217.5L1574.3 216L1572.9 214.8L1569.6 215.1L1564.9 214.4L1560.2 213.2L1557.9 211.8L1560.2 211.3L1564 210.9L1565.4 209.5L1563 208.1L1558.3 207.3L1553.6 207.1L1548.9 207.6L1545.2 209.5L1542.3 211.3L1539.5 213.2L1535.7 214.2L1532 215.6L1529.2 217.9ZM1544.2 221.2L1546.6 219.8L1549.4 219.6L1551.3 221.2L1551.3 223.6L1549.4 225.5L1546.6 225.9L1544.2 224.5ZM1451.5 227.9L1461 227.4L1466.5 224.5L1473.4 223.4L1480.3 224.2L1485 224.5L1489.6 223.6L1492.4 224.5L1493.9 228.6L1491.9 234.2L1488.4 238.2L1485.2 242.3L1483.2 246.9L1483.8 249.8L1482.6 255L1481.5 259.6L1480.1 264.2L1478.6 268.8L1477.5 273.4L1475.7 278L1474 282.6L1472.3 287.2L1471.7 291.8L1469.4 296.4L1467.1 301L1464.2 304.5L1461.7 307.4L1461.9 308.4L1466.5 310L1471.1 309.7L1475.7 308.6L1480.3 307.9L1485 309.4L1489.6 309.7L1494.2 309.1L1498.8 307.7L1503.4 306.5L1508 307.4L1512.6 307.9L1517.2 306.8L1521.8 308.2L1526.4 309.4L1529.9 312.3L1533.3 315.2L1537.9 317.5L1542.6 319.8L1544.3 321.7L1542.6 323.8L1543.1 328.4L1542.6 333L1540.8 336.5L1539.7 341.1L1538.9 345.7L1538.2 350.3L1537.9 354.9L1536.2 359.5L1535.6 364.1L1536.2 368.7L1535.1 373.3L1534.5 377L1535.1 377.3L1536.8 380.7L1538.5 384.8L1541.4 388.8L1544.9 392.8L1548.3 396.9L1552.4 399.7L1556.4 402.1L1561 405.5L1565.6 409L1570.2 410.5L1574.8 409.5L1579.4 407.2L1584 405.5L1588.6 403.2L1593.2 399.2L1597.9 398.6L1605 399.2L1606.5 399.7L1612.3 402.6L1616.9 405.5L1621.5 409.5L1625.5 413.6L1629.6 417.6L1632.4 420.5L1633 416.5L1631.9 413.6L1635.3 410.7L1639.9 407.2L1643.4 403.8L1646.8 401.5L1650.3 399.7L1649.1 396.9L1650.3 393.4L1649.1 390.5L1651.5 387.1L1654.9 383L1658.4 379.6L1661.2 377.3L1664.1 379L1667 382.5L1669.9 378.4L1671 374.4L1675.6 375L1680.3 374.4L1684.9 372.1L1689.5 369.2L1694.1 366.9L1698.7 364.6L1700.4 362.1L1698.5 361.3L1701.7 359L1705.7 357.5L1710.3 358.4L1713.8 360.7L1714.3 363.6L1712 365.9L1708.6 368.2L1704.5 369.4L1701.7 370.5L1701.1 372.2L1702.8 375.7L1705.1 379.1L1706.8 381.5L1705.7 386.1L1702.8 390.7L1699.9 395.3L1701.1 399.9L1704 403.3L1706.3 406.2L1710.3 406.2L1713.8 403.3L1715.5 398.7L1714.9 394.1L1712 390.1L1709.1 386.1L1708.2 382.6L1709.7 380.3L1713.8 378L1718.4 375.7L1723 374L1726.4 372.2L1726.4 370.5L1725.5 367.1L1726.4 363.6L1729.3 361.9L1732.2 363.6L1733.6 367.1L1733.3 370.5L1732 372L1735.6 371.7L1740.3 371.1L1744.9 372.2L1748.9 374.5L1752.4 378L1753.8 382L1755.2 384.9L1758.7 386.1L1764.4 385.1L1770.2 384.7L1776 384L1781.7 384L1785.2 385.5L1787.5 388.4L1792.1 390.1L1796.7 390.9L1801.3 391.2L1805 388.9L1808.4 388.4L1810.7 385.5L1814.1 386.1L1818.8 384L1824.5 382.9L1829.1 382.4L1838.3 382.3L1847.6 382L1851 381.7L1849.9 383.5L1840.6 384.3L1833.7 385.1L1830.9 386.1L1832.6 389.5L1835.5 393.5L1838.3 395L1842.9 394.1L1847.6 394.7L1852.2 397L1856.8 399.9L1859.7 403.3L1858.5 407L1859.4 408.4L1860.6 412.4L1865.2 413L1869.8 414.7L1874.4 416.5L1879 418.8L1885 422.2L1892 436L1896.3 445.3L1622.6 445.3L1622.1 436L1619.2 433.7L1615.7 430.3L1612.9 426.2L1611.1 422.2L1613.4 419.9L1616.9 417.6L1614.6 416.5L1611.1 417L1607.7 414.1L1604.2 410.7L1599.6 408.4L1595 407.2L1593.2 410.7L1589.8 414.1L1585.2 416.5L1581.7 418.2L1583.5 421.1L1586.3 424.5L1589.2 427.4L1587.5 429.7L1582.9 431.7L1578.3 432.8L1575.4 432L1573.7 428L1571.4 426.2L1568.5 428L1566.2 424.5L1564.4 421.1L1561 418.8L1557.5 417.6L1552.9 417L1549.5 418.2L1547.2 419.9L1546 416.5L1543.7 414.1L1539.7 414.7L1536.8 412.4L1537.4 409.5L1535.6 406.1L1533.3 403.2L1529.9 400.9L1526.4 399.7L1523 397.4L1521.2 394.6L1519.5 396.9L1516.1 399.7L1512.6 395.7L1508.6 394L1506.3 390.5L1506.3 386.5L1508 383L1507.4 380.2L1508.6 376.7L1505.7 374.4L1501.1 370.9L1496.5 366.9L1493 363.5L1490.7 359.5L1487.3 356.6L1483.8 353.8L1480.9 351.5L1478 348L1472.3 347.4L1466.5 346.8L1461 346.3L1451.5 346.3ZM1809 378.2L1811.8 377.4L1814.1 378.2L1817.6 376.3L1819 377.4L1817 379.7L1815.1 381.5L1812.4 381.7L1809.8 380.3ZM1850.7 382L1858.5 381.2L1857.9 386.1L1857.4 391.8L1851 392.1L1843.2 393.2L1850.4 390.4ZM1845.5 302.2L1847.6 300.5L1850.4 299L1851.6 301.3L1854.5 302.5L1857.5 301.8L1855.6 304L1852.7 305.1L1851 306.8L1849.3 309.1L1847.2 308.6L1845.9 305.7ZM1680.9 251.3L1683.8 249L1687.3 248.4L1690.2 247.5L1694.2 250.2L1698.8 251.3L1703.4 251.3L1706.9 249L1711.5 248.4L1716.1 249L1720.7 251.3L1725.3 252.5L1729.9 253L1732.2 255.3L1733.4 258.2L1739.1 261.7L1743.7 262.3L1747.2 263.4L1750.6 265.7L1753.5 268.6L1752.4 271.5L1750.6 273.2L1749.5 275.5L1746 273.2L1741.4 271.5L1736.8 270.9L1732.2 270.3L1727.6 272.1L1724.1 273.8L1721.3 273.2L1718.4 272.1L1715.5 274.9L1713.2 278.4L1710.9 281.8L1708 284.1L1706.3 280.7L1705.1 277.2L1704 274.4L1701.1 273.2L1696.5 273.8L1691.9 274.4L1687.3 273.8L1682.7 274.4L1678.1 274.9L1674.6 276.1L1670 274.9L1668.3 273.3L1666.4 270.8L1667.7 268.2L1670 268.4L1674.6 269.7L1679.2 270.9L1685 271.2L1690.7 270.3L1694.8 269.2L1697.1 267.4L1694.8 264.6L1691.9 261.7L1690.7 258.2L1691.3 254.8L1688.4 253.6L1685 253L1681.5 253ZM1768.5 270.9L1771.4 269.7L1777.1 269.7L1782.9 270.3L1788.7 270.9L1789.8 273.2L1788.1 276.1L1785.2 277.8L1780.6 278.6L1774.8 278.4L1770.2 279L1768.5 276.7L1768.8 273.8Z" fill="#d2b48c" stroke="none"/></g>
<path d="M1495.3 359L1501.1 360.6L1505.7 364.1L1510.3 367.8L1516.1 372.4L1520.9 377.3L1517.2 378.1L1511.2 376.8L1506.2 374.1L1503.8 367.6L1500.2 363.2Z" fill="#b3b8c2" stroke="none"/>
<path d="M1497.4 359.5L1505.7 363.8L1512.6 370.1L1519.5 376.8L1526.4 379L1534.5 382.5" fill="none" stroke="#97b6e1" stroke-width="1.4" stroke-linejoin="round" stroke-linecap="round"/>
<path d="M1493.6 344L1497.6 341.1L1501.1 343.6L1505.7 341.7L1507.8 337.9L1512.6 332.8L1517.8 325.2M1524.1 326.8L1534.5 323.8L1543.5 321.7M1661.6 377.3L1663 383L1660.7 390L1661.8 398L1666.4 403.2L1673.3 407.2L1676.2 413L1675.6 421.1L1674.5 429.1L1674.5 436.6M1841.6 411.8L1842.1 406.7L1838.7 402.6L1837 398.6L1838.1 396.3M1842.1 406.7L1845 403.2L1846.2 399.2" fill="none" stroke="#97b6e1" stroke-width="1.5" stroke-linejoin="round" stroke-linecap="round"/>
<path d="M1770.7 435.5L1775.3 431.4L1781.1 427.4L1786.8 425.7L1792.6 423.1L1798.4 424.5L1802.4 426.6L1806.4 424.5L1807.6 421.6L1811 420.5L1814.5 422.2L1817.9 419.9L1823.7 418.2L1829.5 417L1835.2 414.7L1841 412.4L1845.6 413.6L1850.2 411.3L1854.8 408.6" fill="none" stroke="#97b6e1" stroke-width="1.6" stroke-linejoin="round" stroke-linecap="round"/>
<path d="M1588.6 402.9L1595 409" fill="none" stroke="#97b6e1" stroke-width="1.2" stroke-linejoin="round" stroke-linecap="round"/>
<path d="M1472.3 311.1L1467.7 314L1463.1 318L1459.6 320.6M1459.6 330.9L1464.2 334.7L1468.8 336.5L1473.4 336.2L1476.9 338.2L1478.8 339.7M1489.6 350.1L1493 346.3L1492.4 342.2L1494.7 339.4L1499.9 339L1502.2 335.6L1505.7 336.7L1509.1 334.2L1512.6 332.1L1515.1 328.4L1517.8 325L1520.1 323.6L1524.1 326.8L1528.7 325.2L1533.3 324L1537.9 322.6L1543.9 321.5M1459.6 278.2L1464.8 278.2M1510.3 377.1L1516.1 378.4L1521.8 378.4L1526.4 379.6L1531 381.9L1535.6 382.5M1547.2 402.1L1546.6 406.1L1547.2 409.5L1549.5 410.7L1548.3 412.4M1624.7 413.9L1628.4 421.6L1623.8 426.8L1619.8 426.6M1699.8 375L1695.2 377.3L1691.8 380.7L1688.9 386.5L1687.2 392.3L1685.4 398L1683.1 402.6L1687.2 404.4L1690.6 408.4L1694.1 414.1L1696.4 419.9L1694.7 426.8L1697.5 431.4L1701 436.3M1703.3 435.6L1717.1 434.9M1872.7 416.5L1868.6 421.1L1862.9 424.5L1860.6 428L1862.3 431.4L1865.8 435.1M1705.1 251.3L1704.6 256.5L1705.7 261.1L1704 264.6L1702.3 268.6L1703.4 272.1L1704.6 274.4" fill="none" stroke="#000" stroke-width="1.75" stroke-dasharray="6.4 2.8"/>
<g filter="url(#rough)">
<path d="M1611.5 273.1L1613.7 270.9L1619.3 270L1624.9 269.5L1630.5 270.9L1636.1 273.1L1640.3 275.2L1642.9 277.3L1641.7 279.4L1637.5 279L1633.3 279.8L1629.1 281.8L1624.9 280.8L1620.7 279.4L1617.9 277.3L1615.1 275.9L1612 274.5ZM1677.6 231.6L1679.7 229.8L1683.2 229.2L1686 227.4L1687.4 225L1688.4 226.7L1686.7 230.2L1683.9 233L1679.7 234L1677.6 233.4ZM1525.9 218.6L1525.2 215.4L1526.8 211.4L1530.1 208.1L1534.8 205.2L1540.5 203.3L1547 201.9L1553.6 200.1L1560.2 199.6L1565.9 200.3L1570.6 199.8L1574.3 200.3L1578.1 201.8L1582.8 202.9L1588.4 204.3L1592.2 206.2L1595 208.5L1598.8 210.4L1603.5 211.3L1608.2 212.3L1612.9 213.7L1617.6 216.5L1621.4 220.3L1625.1 224L1628.9 226.9L1633.6 229.2L1640 230.6L1647.4 232L1651.6 233.7L1650.2 235.8L1654.4 237.2L1660 237.9L1664.2 240.1L1668.4 242.9L1671.2 244.5L1670.5 246.4L1665.6 247.1L1661.4 247.8L1657.2 248.9L1651.6 248.9L1646 249.2L1640 247.6L1636.4 248L1631.7 248.5L1627 249L1622.3 250.9L1620.4 250.4L1623.2 246.2L1627 242.9L1630.3 240.5L1628.9 239.1L1625.1 237.2L1620.4 236.7L1615.7 234.9L1611.9 232.5L1610.1 229.7L1608.7 226.4L1607.2 224L1603.5 224.2L1598.8 224L1594.1 223.3L1589.4 222.2L1586.5 220.8L1583.7 218.9L1580 217.5L1574.3 216L1572.9 214.8L1569.6 215.1L1564.9 214.4L1560.2 213.2L1557.9 211.8L1560.2 211.3L1564 210.9L1565.4 209.5L1563 208.1L1558.3 207.3L1553.6 207.1L1548.9 207.6L1545.2 209.5L1542.3 211.3L1539.5 213.2L1535.7 214.2L1532 215.6L1529.2 217.9ZM1544.2 221.2L1546.6 219.8L1549.4 219.6L1551.3 221.2L1551.3 223.6L1549.4 225.5L1546.6 225.9L1544.2 224.5ZM1451.5 227.9L1461 227.4L1466.5 224.5L1473.4 223.4L1480.3 224.2L1485 224.5L1489.6 223.6L1492.4 224.5L1493.9 228.6L1491.9 234.2L1488.4 238.2L1485.2 242.3L1483.2 246.9L1483.8 249.8L1482.6 255L1481.5 259.6L1480.1 264.2L1478.6 268.8L1477.5 273.4L1475.7 278L1474 282.6L1472.3 287.2L1471.7 291.8L1469.4 296.4L1467.1 301L1464.2 304.5L1461.7 307.4L1461.9 308.4L1466.5 310L1471.1 309.7L1475.7 308.6L1480.3 307.9L1485 309.4L1489.6 309.7L1494.2 309.1L1498.8 307.7L1503.4 306.5L1508 307.4L1512.6 307.9L1517.2 306.8L1521.8 308.2L1526.4 309.4L1529.9 312.3L1533.3 315.2L1537.9 317.5L1542.6 319.8L1544.3 321.7L1542.6 323.8L1543.1 328.4L1542.6 333L1540.8 336.5L1539.7 341.1L1538.9 345.7L1538.2 350.3L1537.9 354.9L1536.2 359.5L1535.6 364.1L1536.2 368.7L1535.1 373.3L1534.5 377L1535.1 377.3L1536.8 380.7L1538.5 384.8L1541.4 388.8L1544.9 392.8L1548.3 396.9L1552.4 399.7L1556.4 402.1L1561 405.5L1565.6 409L1570.2 410.5L1574.8 409.5L1579.4 407.2L1584 405.5L1588.6 403.2L1593.2 399.2L1597.9 398.6L1605 399.2L1606.5 399.7L1612.3 402.6L1616.9 405.5L1621.5 409.5L1625.5 413.6L1629.6 417.6L1632.4 420.5L1633 416.5L1631.9 413.6L1635.3 410.7L1639.9 407.2L1643.4 403.8L1646.8 401.5L1650.3 399.7L1649.1 396.9L1650.3 393.4L1649.1 390.5L1651.5 387.1L1654.9 383L1658.4 379.6L1661.2 377.3L1664.1 379L1667 382.5L1669.9 378.4L1671 374.4L1675.6 375L1680.3 374.4L1684.9 372.1L1689.5 369.2L1694.1 366.9L1698.7 364.6L1700.4 362.1L1698.5 361.3L1701.7 359L1705.7 357.5L1710.3 358.4L1713.8 360.7L1714.3 363.6L1712 365.9L1708.6 368.2L1704.5 369.4L1701.7 370.5L1701.1 372.2L1702.8 375.7L1705.1 379.1L1706.8 381.5L1705.7 386.1L1702.8 390.7L1699.9 395.3L1701.1 399.9L1704 403.3L1706.3 406.2L1710.3 406.2L1713.8 403.3L1715.5 398.7L1714.9 394.1L1712 390.1L1709.1 386.1L1708.2 382.6L1709.7 380.3L1713.8 378L1718.4 375.7L1723 374L1726.4 372.2L1726.4 370.5L1725.5 367.1L1726.4 363.6L1729.3 361.9L1732.2 363.6L1733.6 367.1L1733.3 370.5L1732 372L1735.6 371.7L1740.3 371.1L1744.9 372.2L1748.9 374.5L1752.4 378L1753.8 382L1755.2 384.9L1758.7 386.1L1764.4 385.1L1770.2 384.7L1776 384L1781.7 384L1785.2 385.5L1787.5 388.4L1792.1 390.1L1796.7 390.9L1801.3 391.2L1805 388.9L1808.4 388.4L1810.7 385.5L1814.1 386.1L1818.8 384L1824.5 382.9L1829.1 382.4L1838.3 382.3L1847.6 382L1851 381.7L1849.9 383.5L1840.6 384.3L1833.7 385.1L1830.9 386.1L1832.6 389.5L1835.5 393.5L1838.3 395L1842.9 394.1L1847.6 394.7L1852.2 397L1856.8 399.9L1859.7 403.3L1858.5 407L1859.4 408.4L1860.6 412.4L1865.2 413L1869.8 414.7L1874.4 416.5L1879 418.8L1885 422.2L1892 436L1896.3 445.3L1622.6 445.3L1622.1 436L1619.2 433.7L1615.7 430.3L1612.9 426.2L1611.1 422.2L1613.4 419.9L1616.9 417.6L1614.6 416.5L1611.1 417L1607.7 414.1L1604.2 410.7L1599.6 408.4L1595 407.2L1593.2 410.7L1589.8 414.1L1585.2 416.5L1581.7 418.2L1583.5 421.1L1586.3 424.5L1589.2 427.4L1587.5 429.7L1582.9 431.7L1578.3 432.8L1575.4 432L1573.7 428L1571.4 426.2L1568.5 428L1566.2 424.5L1564.4 421.1L1561 418.8L1557.5 417.6L1552.9 417L1549.5 418.2L1547.2 419.9L1546 416.5L1543.7 414.1L1539.7 414.7L1536.8 412.4L1537.4 409.5L1535.6 406.1L1533.3 403.2L1529.9 400.9L1526.4 399.7L1523 397.4L1521.2 394.6L1519.5 396.9L1516.1 399.7L1512.6 395.7L1508.6 394L1506.3 390.5L1506.3 386.5L1508 383L1507.4 380.2L1508.6 376.7L1505.7 374.4L1501.1 370.9L1496.5 366.9L1493 363.5L1490.7 359.5L1487.3 356.6L1483.8 353.8L1480.9 351.5L1478 348L1472.3 347.4L1466.5 346.8L1461 346.3L1451.5 346.3ZM1809 378.2L1811.8 377.4L1814.1 378.2L1817.6 376.3L1819 377.4L1817 379.7L1815.1 381.5L1812.4 381.7L1809.8 380.3ZM1850.7 382L1858.5 381.2L1857.9 386.1L1857.4 391.8L1851 392.1L1843.2 393.2L1850.4 390.4ZM1845.5 302.2L1847.6 300.5L1850.4 299L1851.6 301.3L1854.5 302.5L1857.5 301.8L1855.6 304L1852.7 305.1L1851 306.8L1849.3 309.1L1847.2 308.6L1845.9 305.7ZM1680.9 251.3L1683.8 249L1687.3 248.4L1690.2 247.5L1694.2 250.2L1698.8 251.3L1703.4 251.3L1706.9 249L1711.5 248.4L1716.1 249L1720.7 251.3L1725.3 252.5L1729.9 253L1732.2 255.3L1733.4 258.2L1739.1 261.7L1743.7 262.3L1747.2 263.4L1750.6 265.7L1753.5 268.6L1752.4 271.5L1750.6 273.2L1749.5 275.5L1746 273.2L1741.4 271.5L1736.8 270.9L1732.2 270.3L1727.6 272.1L1724.1 273.8L1721.3 273.2L1718.4 272.1L1715.5 274.9L1713.2 278.4L1710.9 281.8L1708 284.1L1706.3 280.7L1705.1 277.2L1704 274.4L1701.1 273.2L1696.5 273.8L1691.9 274.4L1687.3 273.8L1682.7 274.4L1678.1 274.9L1674.6 276.1L1670 274.9L1668.3 273.3L1666.4 270.8L1667.7 268.2L1670 268.4L1674.6 269.7L1679.2 270.9L1685 271.2L1690.7 270.3L1694.8 269.2L1697.1 267.4L1694.8 264.6L1691.9 261.7L1690.7 258.2L1691.3 254.8L1688.4 253.6L1685 253L1681.5 253ZM1768.5 270.9L1771.4 269.7L1777.1 269.7L1782.9 270.3L1788.7 270.9L1789.8 273.2L1788.1 276.1L1785.2 277.8L1780.6 278.6L1774.8 278.4L1770.2 279L1768.5 276.7L1768.8 273.8Z" fill="none" stroke="#000" stroke-width="2.8" stroke-linejoin="round"/>
<path d="M1662.1 204.9L1658.9 199.6L1654.7 197.2M1552.7 224L1558.3 223.1L1564 223.3L1569.6 222.9" fill="none" stroke="#000" stroke-width="2.2" stroke-linejoin="round" stroke-linecap="round"/>
<path d="M1654.7 197.2L1649.9 200L1646.9 204.9L1646.7 209.9L1648.1 214.1L1649.5 216.3" fill="none" stroke="#000" stroke-width="1.6" stroke-linejoin="round" stroke-linecap="round"/>
<path d="M1668.1 205.4L1669.3 209.9M1685 211.3L1691.2 212.7M1518.5 219.8L1523.5 218.2L1525.6 220.1M1547 216.7L1550.8 217.8M1538.2 353.2L1540 358.1M1513.2 390.2L1517.2 392.5L1520.9 394.6M1571.6 424.5L1573.7 429.1M1537 412.4L1540.8 415.1L1546 417L1547.2 420.1M1729.3 356.1L1731 358.6M1687.5 247.3L1692.5 247.5M1747.4 274.7L1750.4 275.2M1792.4 274.7L1796.7 273.3" fill="none" stroke="#000" stroke-width="2.9" stroke-linejoin="round" stroke-linecap="round"/>
<path d="M1673.3 207.6L1675.4 206.5M1712.2 229.5L1713.9 225.6M1673.5 276.1L1676.9 276.7" fill="none" stroke="#000" stroke-width="2.3" stroke-linejoin="round" stroke-linecap="round"/>
<path d="M1669.1 215.2L1671.5 212.9L1674.3 211M1694.4 222.8L1696.5 220.5L1701.4 218.4L1705.6 219.7L1708.5 223.2L1707.2 227.4L1705.2 230.4M1479.2 339.4L1478.6 344.5L1482.1 347.1L1480.9 351.5L1485 350.5L1489.6 349.6M1828.8 285.2L1832.1 287.9L1834.9 290.5" fill="none" stroke="#000" stroke-width="2.7" stroke-linejoin="round" stroke-linecap="round"/>
<path d="M1570.9 198.2L1574.7 198.7L1578.5 200.2L1583.2 201.3L1588.8 202.7L1592.6 204.6L1595.4 206.9L1599.2 208.8L1603.9 209.7L1608.6 210.7L1613.3 212.1L1618 214.9L1621.7 218.7L1625.5 222.4L1629.3 225.3L1634 227.6L1640.4 229L1643.4 229.2L1647.4 230.6" fill="none" stroke="#000" stroke-width="3.6" stroke-linejoin="round" stroke-linecap="round"/>
<path d="M1542.8 219.8L1544.7 221.7M1586.7 252.5L1592.6 251.9M1466.5 272.2L1470 270.5L1473.4 267.9L1474.6 265.3" fill="none" stroke="#000" stroke-width="2.5" stroke-linejoin="round" stroke-linecap="round"/>
<path d="M1536.7 217.9L1541.4 218.5M1552.7 209.2L1556.4 210.4M1616.2 239.8L1619.9 241.2L1624.2 240.5M1805.5 366.5L1809 367.9" fill="none" stroke="#000" stroke-width="2.1" stroke-linejoin="round" stroke-linecap="round"/>
<path d="M1596 230.8L1600.7 234L1606.3 237.2L1611.9 239.7M1494.7 302.3L1498.8 300.8L1502.2 300.2" fill="none" stroke="#000" stroke-width="3" stroke-linejoin="round" stroke-linecap="round"/>
<path d="M1603 231.8L1605.8 233L1608.2 231.1M1554.3 417.8L1561 422" fill="none" stroke="#000" stroke-width="1.9" stroke-linejoin="round" stroke-linecap="round"/>
<path d="M1569.1 257.3L1572.9 257.8M1825.4 273.7L1828.7 275.7M1683.6 264L1689.8 266.6" fill="none" stroke="#000" stroke-width="3.5" stroke-linejoin="round" stroke-linecap="round"/>
<path d="M1489.6 243.4L1493.2 239.1M1810.7 383.2L1815.3 382.6L1818.8 384.3M1856.5 404.4L1858.8 408.4L1860 412.4M1851 312.6L1852.2 317.8" fill="none" stroke="#000" stroke-width="3.9" stroke-linejoin="round" stroke-linecap="round"/>
<path d="M1478.6 253.8L1482.6 252.6M1464.8 309.1L1467.1 310M1741.4 359.2L1744.9 362.4L1748.3 364.4" fill="none" stroke="#000" stroke-width="3.3" stroke-linejoin="round" stroke-linecap="round"/>
<path d="M1472.3 268.8L1475.7 273.4L1474 278L1476 282.6L1478 285.1L1475.7 288.6L1473.4 292.1M1792.8 274.8L1796.6 273.4" fill="none" stroke="#000" stroke-width="3.1" stroke-linejoin="round" stroke-linecap="round"/>
<path d="M1555.2 402.9L1559.8 405.9L1564.4 408.4M1562.7 425.9L1565 431.7M1601.3 413.2L1603.2 418.5M1752.4 360.5L1755 363.6M1858.8 376.6L1863.9 374.5M1854.2 345.2L1853.5 348" fill="none" stroke="#000" stroke-width="3.7" stroke-linejoin="round" stroke-linecap="round"/>
<path d="M1646.3 395.1L1648.9 397.4M1647.4 390.9L1650.1 390.2M1761.6 364.4L1766.2 365.3" fill="none" stroke="#000" stroke-width="1.8" stroke-linejoin="round" stroke-linecap="round"/>
<path d="M1855.6 325L1857.9 329M1857.7 334.8L1857 339.4" fill="none" stroke="#000" stroke-width="4.3" stroke-linejoin="round" stroke-linecap="round"/>
<path d="M1854.7 350.9L1850.4 357.8L1846.6 363.9" fill="none" stroke="#000" stroke-width="2.8" stroke-linejoin="round" stroke-linecap="round"/>
<path d="M1799.2 272.5L1806.1 270.7L1810.1 269.4M1801.7 281.7L1806.5 281" fill="none" stroke="#000" stroke-width="3.2" stroke-linejoin="round" stroke-linecap="round"/>
<path d="M1854.7 323.9L1858.2 329" fill="none" stroke="#000" stroke-width="4.7" stroke-linejoin="round" stroke-linecap="round"/>
<path d="M1735.1 258.8L1741.4 259.7" fill="none" stroke="#000" stroke-width="4.9" stroke-linejoin="round" stroke-linecap="round"/>
<circle cx="1676.9" cy="201.4" r="1.8" fill="#000"/>
<circle cx="1679.7" cy="208.4" r="1.3" fill="#000"/>
<circle cx="1666.3" cy="215.5" r="1.3" fill="#000"/>
<circle cx="1548.9" cy="213.2" r="1.3" fill="#000"/>
<circle cx="1480.6" cy="259" r="1.6" fill="#000"/>
<circle cx="1485.2" cy="268.8" r="1.1" fill="#000"/>
<circle cx="1533.1" cy="286.1" r="1.1" fill="#000"/>
<circle cx="1505.5" cy="300.2" r="1.8" fill="#000"/>
<circle cx="1489.9" cy="305.6" r="1.8" fill="#000"/>
<circle cx="1497.1" cy="307.1" r="1.1" fill="#000"/>
<circle cx="1541.6" cy="307.3" r="1.4" fill="#000"/>
<circle cx="1547.2" cy="317.5" r="1.1" fill="#000"/>
<circle cx="1551.5" cy="319.2" r="2" fill="#000"/>
<circle cx="1547.2" cy="328.4" r="1.6" fill="#000"/>
<circle cx="1550" cy="329.6" r="1.6" fill="#000"/>
<circle cx="1548.9" cy="332.1" r="1.6" fill="#000"/>
<circle cx="1552.4" cy="330.9" r="1.6" fill="#000"/>
<circle cx="1551.2" cy="327.8" r="1.6" fill="#000"/>
<circle cx="1587.3" cy="341.9" r="0.8" fill="#000"/>
<circle cx="1569.1" cy="345.3" r="1.6" fill="#000"/>
<circle cx="1564.4" cy="356.9" r="1.8" fill="#000"/>
<circle cx="1505.7" cy="380.5" r="1.8" fill="#000"/>
<circle cx="1602.5" cy="416.5" r="2.8" fill="#000"/>
<circle cx="1612.5" cy="416.7" r="1.9" fill="#000"/>
<circle cx="1633" cy="420.7" r="2.1" fill="#000"/>
<circle cx="1667" cy="380.7" r="2.1" fill="#000"/>
<circle cx="1698.7" cy="361.4" r="2.1" fill="#000"/>
<circle cx="1775.4" cy="366.7" r="2.9" fill="#000"/>
<circle cx="1778" cy="366.2" r="2.1" fill="#000"/>
<circle cx="1784" cy="367.3" r="1.6" fill="#000"/>
<circle cx="1795.8" cy="380" r="2.2" fill="#000"/>
<circle cx="1826.8" cy="373.4" r="1.6" fill="#000"/>
<circle cx="1877.5" cy="347.5" r="2.8" fill="#000"/>
<circle cx="1846.6" cy="363.7" r="2.1" fill="#000"/>
<circle cx="1809.5" cy="266.8" r="1.8" fill="#000"/>
<circle cx="1830.5" cy="278.8" r="1.8" fill="#000"/>
<circle cx="1829.1" cy="273.1" r="1.5" fill="#000"/>
<circle cx="1824.9" cy="283" r="1.3" fill="#000"/>
<circle cx="1839.7" cy="295.9" r="1.9" fill="#000"/>
<circle cx="1845" cy="282.9" r="2.4" fill="#000"/>
<circle cx="1845.5" cy="291.1" r="2.8" fill="#000"/>
<circle cx="1853.1" cy="307.8" r="2" fill="#000"/>
<circle cx="1759.3" cy="276.1" r="1.8" fill="#000"/>
</g>
<circle cx="1658.6" cy="271.4" r="0.9" fill="none" stroke="#000" stroke-opacity="0.35" stroke-width="0.5"/>
<circle cx="1645.3" cy="286" r="0.8" fill="none" stroke="#000" stroke-opacity="0.35" stroke-width="0.5"/>
<circle cx="1615.1" cy="206.6" r="0.8" fill="none" stroke="#000" stroke-opacity="0.35" stroke-width="0.5"/>
<circle cx="1656.5" cy="217.6" r="1" fill="none" stroke="#000" stroke-opacity="0.35" stroke-width="0.5"/>
<circle cx="1648.5" cy="218" r="0.9" fill="none" stroke="#000" stroke-opacity="0.35" stroke-width="0.5"/>
<circle cx="1675.4" cy="222.5" r="1" fill="none" stroke="#000" stroke-opacity="0.35" stroke-width="0.5"/>
<circle cx="1698.6" cy="226" r="1" fill="none" stroke="#000" stroke-opacity="0.35" stroke-width="0.5"/>
<circle cx="1572.4" cy="223.1" r="0.9" fill="none" stroke="#000" stroke-opacity="0.35" stroke-width="0.5"/>
<circle cx="1485" cy="266.5" r="1" fill="none" stroke="#000" stroke-opacity="0.35" stroke-width="0.5"/>
<circle cx="1482.6" cy="285.5" r="1" fill="none" stroke="#000" stroke-opacity="0.35" stroke-width="0.5"/>
<circle cx="1481.7" cy="289.5" r="1" fill="none" stroke="#000" stroke-opacity="0.35" stroke-width="0.5"/>
<circle cx="1478.6" cy="295.9" r="1" fill="none" stroke="#000" stroke-opacity="0.35" stroke-width="0.5"/>
<circle cx="1474.6" cy="300.5" r="1" fill="none" stroke="#000" stroke-opacity="0.35" stroke-width="0.5"/>
<circle cx="1472.3" cy="303.9" r="1" fill="none" stroke="#000" stroke-opacity="0.35" stroke-width="0.5"/>
<circle cx="1546" cy="312.5" r="1" fill="none" stroke="#000" stroke-opacity="0.35" stroke-width="0.5"/>
<circle cx="1550.6" cy="323.8" r="1" fill="none" stroke="#000" stroke-opacity="0.35" stroke-width="0.5"/>
<circle cx="1583.5" cy="330.1" r="1" fill="none" stroke="#000" stroke-opacity="0.35" stroke-width="0.5"/>
<circle cx="1590.4" cy="309.4" r="1" fill="none" stroke="#000" stroke-opacity="0.35" stroke-width="0.5"/>
<circle cx="1546" cy="361.2" r="1.3" fill="none" stroke="#000" stroke-opacity="0.35" stroke-width="0.5"/>
<circle cx="1533.3" cy="411.3" r="1" fill="none" stroke="#000" stroke-opacity="0.35" stroke-width="0.5"/>
<circle cx="1554.1" cy="423.4" r="1" fill="none" stroke="#000" stroke-opacity="0.35" stroke-width="0.5"/>
<circle cx="1557" cy="429.1" r="1" fill="none" stroke="#000" stroke-opacity="0.35" stroke-width="0.5"/>
<circle cx="1566.5" cy="406.1" r="1" fill="none" stroke="#000" stroke-opacity="0.35" stroke-width="0.5"/>
<circle cx="1716.6" cy="358.6" r="1" fill="none" stroke="#000" stroke-opacity="0.35" stroke-width="0.5"/>
<circle cx="1822.4" cy="268.6" r="1.2" fill="none" stroke="#000" stroke-opacity="0.35" stroke-width="0.5"/>
<circle cx="1765.2" cy="272.1" r="0.8" fill="none" stroke="#000" stroke-opacity="0.35" stroke-width="0.5"/>
<circle cx="1819.3" cy="311.2" r="1.2" fill="none" stroke="#000" stroke-opacity="0.35" stroke-width="0.5"/>
<circle cx="1837.8" cy="293" r="0.8" fill="none" stroke="#000" stroke-opacity="0.35" stroke-width="0.5"/>
<circle cx="1765" cy="271.7" r="0.8" fill="none" stroke="#000" stroke-opacity="0.35" stroke-width="0.5"/>
<circle cx="1640.00" cy="323.20" r="6" fill="#0000ff"/>
</g>
<path d="M1517.48 195.40v-8.7M1517.48 436.25v8.7M1588.14 195.40v-8.7M1588.14 436.25v8.7M1658.80 195.40v-8.7M1658.80 436.25v8.7M1729.46 195.40v-8.7M1729.46 436.25v8.7M1800.12 195.40v-8.7M1800.12 436.25v8.7M1870.78 195.40v-8.7M1870.78 436.25v8.7M1461.40 393.56h-8.7M1899.65 393.56h8.7M1461.40 321.88h-8.7M1899.65 321.88h8.7M1461.40 248.48h-8.7M1899.65 248.48h8.7" fill="none" stroke="#000" stroke-width="3.47"/>
<path d="M1460.95 195.40v-2.6M1460.95 436.25v2.6M1475.08 195.40v-2.6M1475.08 436.25v2.6M1489.21 195.40v-2.6M1489.21 436.25v2.6M1503.35 195.40v-2.6M1503.35 436.25v2.6M1531.61 195.40v-2.6M1531.61 436.25v2.6M1545.74 195.40v-2.6M1545.74 436.25v2.6M1559.87 195.40v-2.6M1559.87 436.25v2.6M1574.01 195.40v-2.6M1574.01 436.25v2.6M1602.27 195.40v-2.6M1602.27 436.25v2.6M1616.40 195.40v-2.6M1616.40 436.25v2.6M1630.53 195.40v-2.6M1630.53 436.25v2.6M1644.67 195.40v-2.6M1644.67 436.25v2.6M1672.93 195.40v-2.6M1672.93 436.25v2.6M1687.06 195.40v-2.6M1687.06 436.25v2.6M1701.19 195.40v-2.6M1701.19 436.25v2.6M1715.33 195.40v-2.6M1715.33 436.25v2.6M1743.59 195.40v-2.6M1743.59 436.25v2.6M1757.72 195.40v-2.6M1757.72 436.25v2.6M1771.85 195.40v-2.6M1771.85 436.25v2.6M1785.99 195.40v-2.6M1785.99 436.25v2.6M1814.25 195.40v-2.6M1814.25 436.25v2.6M1828.38 195.40v-2.6M1828.38 436.25v2.6M1842.51 195.40v-2.6M1842.51 436.25v2.6M1856.65 195.40v-2.6M1856.65 436.25v2.6M1884.91 195.40v-2.6M1884.91 436.25v2.6M1899.04 195.40v-2.6M1899.04 436.25v2.6M1461.40 436.00h-2.6M1899.65 436.00h2.6M1461.40 421.89h-2.6M1899.65 421.89h2.6M1461.40 407.75h-2.6M1899.65 407.75h2.6M1461.40 379.33h-2.6M1899.65 379.33h2.6M1461.40 365.06h-2.6M1899.65 365.06h2.6M1461.40 350.72h-2.6M1899.65 350.72h2.6M1461.40 336.33h-2.6M1899.65 336.33h2.6M1461.40 307.36h-2.6M1899.65 307.36h2.6M1461.40 292.76h-2.6M1899.65 292.76h2.6M1461.40 278.09h-2.6M1899.65 278.09h2.6M1461.40 263.33h-2.6M1899.65 263.33h2.6M1461.40 233.53h-2.6M1899.65 233.53h2.6M1461.40 218.49h-2.6M1899.65 218.49h2.6M1461.40 203.33h-2.6M1899.65 203.33h2.6" fill="none" stroke="#000" stroke-width="1.74"/>
<path d="M1461.40 195.40H1899.65V436.25H1461.40" fill="none" stroke="#000" stroke-width="1.39" stroke-linecap="square"/>
<g font-size="13.89" text-anchor="middle">
<text x="1517.48" y="461.9">85°W</text>
<text x="1588.14" y="461.9">80°W</text>
<text x="1658.80" y="461.9">75°W</text>
<text x="1729.46" y="461.9">70°W</text>
<text x="1800.12" y="461.9">65°W</text>
<text x="1870.78" y="461.9">60°W</text>
</g>
<g font-size="13.89" text-anchor="end">
<text x="1447.2" y="399.01">10°N</text>
<text x="1447.2" y="327.33">15°N</text>
<text x="1447.2" y="253.93">20°N</text>
</g>
<rect x="1514.8" y="484.6" width="331.5" height="128.1" rx="3.5" ry="3.5" fill="#fff" fill-opacity="0.8" stroke="#ccc" stroke-opacity="0.8" stroke-width="1.74"/>
<g font-size="20.83">
<path d="M1522.3 503.30H1566.4" stroke="#0000ff" stroke-width="2.60" fill="none"/>
<circle cx="1544.4" cy="503.30" r="6.1" fill="#0000ff"/>
<text x="1581.6" y="510.50">6903135 [-76.37, 14.87]</text>
<path d="M1522.3 533.40H1566.4" stroke="#008000" stroke-width="2.60" fill="none"/>
<circle cx="1544.4" cy="533.40" r="6.1" fill="#008000"/>
<text x="1581.6" y="540.60">ESPC [-76.4, 14.88]</text>
<path d="M1522.3 563.50H1566.4" stroke="#ff0000" stroke-width="2.60" fill="none"/>
<circle cx="1544.4" cy="563.50" r="6.1" fill="#ff0000"/>
<text x="1581.6" y="570.70">RTOFS [-76.40, 14.87]</text>
<path d="M1522.3 593.60H1566.4" stroke="#ff00ff" stroke-width="2.60" fill="none"/>
<circle cx="1544.4" cy="593.60" r="6.1" fill="#ff00ff"/>
<text x="1581.6" y="600.80">CMEMS [-76.33, 14.83]</text>
</g>
</svg>
</body></html>
